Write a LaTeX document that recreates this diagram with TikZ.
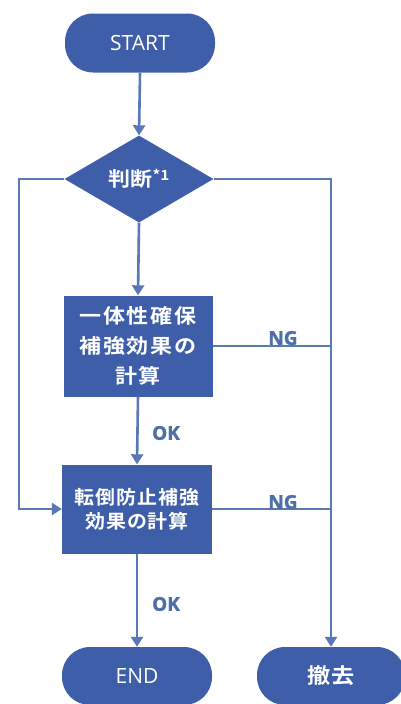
\documentclass[tikz,border=0pt]{standalone}
\usepackage{fontspec}
\setmainfont{Open Sans}
\newfontfamily\lblfont{Open Sans Bold}[FakeBold=1.5]
\newfontfamily\jpwide{Noto Sans CJK JP Bold}[FakeStretch=1.1,LetterSpace=8]
\newfontfamily\jpwideb{Noto Sans CJK JP Bold}[FakeStretch=1.05,LetterSpace=5]
\newfontfamily\jpwidec{Noto Sans CJK JP Bold}[FakeStretch=1.1]
\usetikzlibrary{shapes.geometric,arrows.meta}
\definecolor{boxblue}{HTML}{3F5EA9}
\definecolor{lineblue}{HTML}{5A77B6}
\definecolor{lblblue}{HTML}{4D70A8}
\tikzset{
  term/.style={fill=boxblue, rounded corners=28pt, text=white, inner sep=0pt,
    font=\fontsize{21}{24}\selectfont},
  procbox/.style={fill=boxblue, text=white, inner sep=0pt, align=center},
  decide/.style={diamond, fill=boxblue, text=white, inner sep=0pt,
    font=\jpwidec\fontsize{20}{22}\selectfont},
  conn/.style={draw=lineblue, line width=2.6pt},
  arr/.style={conn, -{Triangle[width=12pt,length=10pt]}},
  lbl/.style={text=lblblue, font=\lblfont\fontsize{19}{21}\selectfont, inner sep=0pt}
}
\begin{document}
\begin{tikzpicture}[x=1pt,y=-1pt]
\clip (0,0) rectangle (401,704);
\useasboundingbox (0,0) rectangle (401,704);
\fill[white] (0,0) rectangle (401,704);

\node[term, minimum width=150pt, minimum height=59pt] (start) at (140,43) {START};
\node[decide, minimum width=149pt, minimum height=87pt] (dec) at (139,179) {判断\raisebox{0.3em}{\fontsize{14}{15}\selectfont *1}};
\node[procbox, minimum width=149pt, minimum height=101pt, font=\jpwide\fontsize{20}{30}\selectfont] (box1) at (138,346)
  {一体性確保\\補強効果の\\計算};
\node[procbox, minimum width=150pt, minimum height=89pt, font=\jpwideb\fontsize{19}{24}\selectfont] (box2) at (137,509)
  {転倒防止補強\\効果の計算};
\node[term, minimum width=150pt, minimum height=58pt] (end) at (137,676) {END};
\node[term, minimum width=148pt, minimum height=58pt, font=\jpwidec\fontsize{21}{24}\selectfont] (rem) at (331,676) {撤去};

\coordinate (L1) at (19,179);
\coordinate (L2) at (19,509);
\coordinate (R1) at (331,179);
\coordinate (R2) at (331,346);
\coordinate (R3) at (331,509);

\draw[arr] (start.south) -- (dec.north);
\draw[arr] (dec.south) -- (box1.north);
\draw[arr] (box1.south) -- (box2.north);
\draw[arr] (box2.south) -- (end.north);
\draw[arr] (dec.west) -- (L1) -- (L2) -- (box2.west);
\draw[conn] (dec.east) -- (R1) -- (R2);
\draw[conn] (box1.east) -- (R2);
\draw[conn] (box2.east) -- (R3);
\draw[arr] (R2) -- (rem.north);

\node[lbl] (ok1) at (166,433) {OK};
\node[lbl] (ok2) at (166,604) {OK};
\node[lbl] (ng1) at (283,338) {NG};
\node[lbl] (ng2) at (283,502) {NG};
\end{tikzpicture}
\end{document}
